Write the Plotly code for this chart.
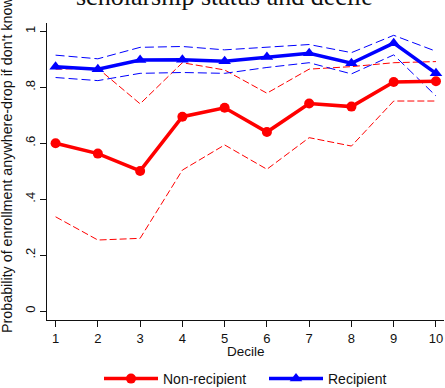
import plotly.graph_objects as go

deciles = [1, 2, 3, 4, 5, 6, 7, 8, 9, 10]

non_recipient = [0.600, 0.563, 0.501, 0.695, 0.727, 0.640, 0.742, 0.731, 0.819, 0.822]
non_recipient_upper = [0.865, 0.868, 0.741, 0.888, 0.862, 0.779, 0.865, 0.874, 0.888, 0.892]
non_recipient_lower = [0.337, 0.254, 0.260, 0.504, 0.594, 0.507, 0.620, 0.590, 0.751, 0.751]

recipient = [0.874, 0.865, 0.898, 0.899, 0.893, 0.908, 0.922, 0.886, 0.958, 0.850]
recipient_upper = [0.915, 0.902, 0.943, 0.946, 0.934, 0.943, 0.953, 0.924, 0.986, 0.929]
recipient_lower = [0.835, 0.824, 0.850, 0.853, 0.850, 0.871, 0.888, 0.848, 0.916, 0.769]

y_tick_vals = [0, 0.2, 0.4, 0.6, 0.8, 1]
y_tick_text = ["0", ".2", ".4", ".6", ".8", "1"]

RED = "#FF0000"
BLUE = "#0000FF"

fig = go.Figure()

# confidence bands (dashed)
fig.add_trace(go.Scatter(x=deciles, y=non_recipient_upper, mode="lines",
                         line=dict(color=RED, width=1, dash="7px,3px"),
                         showlegend=False, hoverinfo="skip"))
fig.add_trace(go.Scatter(x=deciles, y=non_recipient_lower, mode="lines",
                         line=dict(color=RED, width=1, dash="7px,3px"),
                         showlegend=False, hoverinfo="skip"))
fig.add_trace(go.Scatter(x=deciles, y=recipient_upper, mode="lines",
                         line=dict(color=BLUE, width=1, dash="9px,4px"),
                         showlegend=False, hoverinfo="skip"))
fig.add_trace(go.Scatter(x=deciles, y=recipient_lower, mode="lines",
                         line=dict(color=BLUE, width=1, dash="9px,4px"),
                         showlegend=False, hoverinfo="skip"))

# main series
fig.add_trace(go.Scatter(x=deciles, y=non_recipient, mode="lines+markers",
                         name="Non-recipient",
                         line=dict(color=RED, width=3.5),
                         marker=dict(symbol="circle", size=10, color=RED)))
fig.add_trace(go.Scatter(x=deciles, y=recipient, mode="lines+markers",
                         name="Recipient",
                         line=dict(color=BLUE, width=3.5),
                         marker=dict(symbol="triangle-up", size=11, color=BLUE)))

W, H = 445, 388
PLOT_L, PLOT_T, PLOT_W, PLOT_H = 47, 23, 397, 297

fig.update_layout(
    width=W, height=H,
    margin=dict(l=PLOT_L, r=1, t=PLOT_T, b=68, autoexpand=False),
    paper_bgcolor="white", plot_bgcolor="white",
    font=dict(family="Liberation Sans, Arial, sans-serif", size=13, color="#111"),
    showlegend=True,
    legend=dict(orientation="h", xref="container", yref="container",
                x=99 / W, xanchor="left",
                y=1 - 379 / H, yanchor="middle",
                itemwidth=54, entrywidth=96, font=dict(size=14),
                bgcolor="rgba(0,0,0,0)"),
    annotations=[
        dict(text="scholarship status and decile", xref="paper", yref="paper",
             x=(224 - PLOT_L) / PLOT_W, y=1.0 + 26 / PLOT_H,
             xanchor="center", yanchor="middle", showarrow=False,
             font=dict(family="Liberation Serif, Times New Roman, serif",
                       size=26, color="#111")),
        dict(text="Probability of enrollment anywhere-drop if don't know",
             xref="paper", yref="paper", textangle=-90,
             x=(7 - PLOT_L) / PLOT_W, y=(320 - 165) / PLOT_H,
             xanchor="center", yanchor="middle", showarrow=False,
             font=dict(size=14.3, color="#111")),
        dict(text="Decile", xref="paper", yref="paper",
             x=0.5, y=(320 - 351) / PLOT_H,
             xanchor="center", yanchor="middle", showarrow=False,
             font=dict(size=13.5, color="#111")),
    ],
)

fig.update_xaxes(
    range=[0.797, 10.19], tickmode="array", tickvals=deciles,
    ticks="outside", ticklen=6, tickcolor="#111", tickwidth=1,
    showline=True, linecolor="#111", linewidth=1,
    showgrid=False, zeroline=False,
    ticklabelstandoff=0,
    tickfont=dict(size=13),
)
fig.update_yaxes(
    range=[-0.032, 1.03], tickmode="array", tickvals=y_tick_vals, ticktext=y_tick_text,
    ticks="outside", ticklen=6, tickcolor="#111", tickwidth=1,
    showline=True, linecolor="#111", linewidth=1,
    showgrid=False, zeroline=False, tickangle=-90,
    tickfont=dict(size=13),
)

fig.write_html("out.html")
